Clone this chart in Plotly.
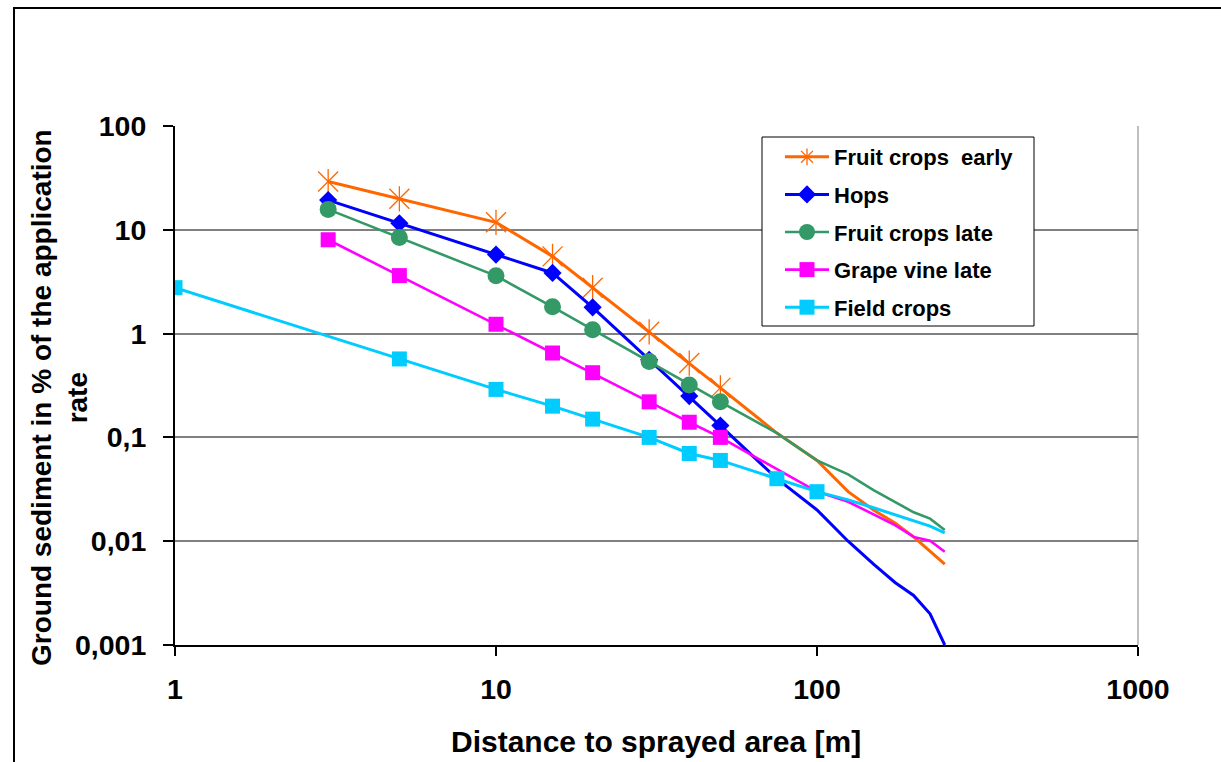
import plotly.graph_objects as go

# Distances from the sprayed area [m]
dist = [3, 5, 10, 15, 20, 30, 40, 50, 75, 100, 125, 150, 175, 200, 225, 250]
field_dist = [1, 5, 10, 15, 20, 30, 40, 50, 75, 100, 125, 150, 175, 200, 225, 250]

# Ground sediment in % of the application rate
fruit_early = [29.2, 19.89, 11.81, 5.55, 2.77, 1.04, 0.52, 0.30,
               0.11, 0.06, 0.03, 0.02, 0.015, 0.011, 0.008, 0.006]
hops = [19.33, 11.57, 5.77, 3.84, 1.79, 0.56, 0.25, 0.13,
        0.04, 0.02, 0.01, 0.006, 0.004, 0.003, 0.002, 0.001]
fruit_late = [15.73, 8.41, 3.60, 1.81, 1.09, 0.54, 0.32, 0.22,
              0.11, 0.06, 0.044, 0.031, 0.024, 0.019, 0.0165, 0.0128]
grape_late = [8.02, 3.62, 1.23, 0.65, 0.42, 0.22, 0.14, 0.10,
              0.05, 0.03, 0.024, 0.018, 0.0143, 0.011, 0.0101, 0.0079]
field = [2.77, 0.57, 0.29, 0.20, 0.15, 0.10, 0.07, 0.06,
         0.04, 0.03, 0.025, 0.021, 0.018, 0.0158, 0.014, 0.012]

# number of leading points that carry a marker
n_marked = {"Fruit crops\u00a0 early": 8, "Hops": 8, "Fruit crops late": 8,
            "Grape vine late": 8, "Field crops": 10}

x_ticks = [1, 10, 100, 1000]
x_ticktext = ["1", "10", "100", "1000"]
y_ticks = [0.001, 0.01, 0.1, 1, 10, 100]
y_ticktext = ["0,001", "0,01", "0,1", "1", "10", "100"]

FONT = "Liberation Sans, Arial, sans-serif"
ORANGE = "#FF6600"
BLUE = "#0000FF"
GREEN = "#339966"
MAGENTA = "#FF00FF"
CYAN = "#00CCFF"

series = [
    ("Fruit crops\u00a0 early", dist, fruit_early, ORANGE, 3, None, 0),
    ("Hops", dist, hops, BLUE, 3, "diamond", 14),
    ("Fruit crops late", dist, fruit_late, GREEN, 2.6, "circle", 17),
    ("Grape vine late", dist, grape_late, MAGENTA, 2.6, "square", 15),
    ("Field crops", field_dist, field, CYAN, 3, "square", 15),
]

fig = go.Figure()

for name, xs, ys, color, lw, symbol, msize in series:
    n = n_marked[name]
    # tail of the curve without markers
    fig.add_trace(go.Scatter(
        x=xs[n - 1:], y=ys[n - 1:], mode="lines",
        line=dict(color=color, width=lw),
        legendgroup=name, showlegend=False, hoverinfo="skip"))
    if symbol is None:
        # star markers: diagonal cross plus vertical bar
        fig.add_trace(go.Scatter(
            x=xs[:n], y=ys[:n], mode="lines+markers",
            line=dict(color=color, width=lw),
            marker=dict(symbol="x-thin-open", size=20, color=color,
                        line=dict(width=1.3, color=color)),
            legendgroup=name, showlegend=False))
        fig.add_trace(go.Scatter(
            x=xs[:n], y=ys[:n], mode="markers",
            marker=dict(symbol="line-ns-open", size=18, color=color,
                        line=dict(width=1.3, color=color)),
            legendgroup=name, showlegend=False, hoverinfo="skip"))
        fig.add_trace(go.Scatter(
            x=[None], y=[None], mode="lines+markers", name=name,
            line=dict(color=color, width=lw),
            marker=dict(symbol="asterisk-open", size=14, color=color,
                        line=dict(width=1.3, color=color)),
            legendgroup=name, showlegend=True))
    else:
        fig.add_trace(go.Scatter(
            x=xs[:n], y=ys[:n], mode="lines+markers", name=name,
            line=dict(color=color, width=lw),
            marker=dict(symbol=symbol, size=msize, color=color,
                        line=dict(width=0)),
            legendgroup=name, showlegend=True))

PL, PR, PT, PB = 175, 1138, 126, 645
W, H = 1221, 762
pw, ph = PR - PL, PB - PT


def px_x(p):
    return (p - PL) / pw


def px_y(p):
    return (PB - p) / ph


fig.update_layout(
    width=W, height=H,
    margin=dict(l=PL, r=W - PR, t=PT, b=H - PB, pad=0),
    paper_bgcolor="white", plot_bgcolor="white",
    font=dict(family=FONT, color="black", weight="bold"),
    showlegend=True,
    legend=dict(
        x=px_x(780), y=px_y(136), xanchor="left", yanchor="top",
        bgcolor="rgba(0,0,0,0)", borderwidth=0,
        font=dict(family=FONT, size=22, color="black", weight="bold"),
        tracegroupgap=6, itemwidth=44, traceorder="grouped",
    ),
    xaxis=dict(
        type="log", range=[0, 3],
        tickvals=x_ticks, ticktext=x_ticktext,
        tickfont=dict(family=FONT, size=28.5, weight="bold"),
        showgrid=False, zeroline=False,
        showline=True, linecolor="black", linewidth=2,
        ticks="outside", ticklen=9, tickwidth=2, tickcolor="black",
        ticklabelstandoff=9,
    ),
    yaxis=dict(
        type="log", range=[-3, 2],
        tickvals=y_ticks, ticktext=y_ticktext,
        tickfont=dict(family=FONT, size=28.5, weight="bold"),
        showgrid=True, gridcolor="#808080", gridwidth=1.5, zeroline=False,
        showline=True, linecolor="black", linewidth=2,
        ticks="outside", ticklen=10, tickwidth=2, tickcolor="black",
        ticklabelstandoff=11,
    ),
    annotations=[
        dict(text="Distance to sprayed area [m]", xref="paper", yref="paper",
             x=px_x(656), y=px_y(741), xanchor="center", yanchor="middle",
             showarrow=False, font=dict(family=FONT, size=30, weight="bold")),
        dict(text="Ground sediment in % of the application<br>rate",
             xref="paper", yref="paper", x=px_x(59), y=px_y(398),
             xanchor="center", yanchor="middle", textangle=-90,
             showarrow=False, font=dict(family=FONT, size=28, weight="bold")),
    ],
    shapes=[
        # outer chart frame
        dict(type="rect", xref="paper", yref="paper",
             x0=px_x(14), x1=px_x(1240), y0=px_y(790), y1=px_y(8),
             line=dict(color="black", width=2), fillcolor="rgba(0,0,0,0)",
             layer="below"),
        # right border of the plot area
        dict(type="line", xref="paper", yref="paper", x0=1, x1=1, y0=0, y1=1,
             line=dict(color="#808080", width=1)),
        # legend box
        dict(type="rect", xref="paper", yref="paper",
             x0=px_x(762), x1=px_x(1034), y0=px_y(326), y1=px_y(137),
             line=dict(color="black", width=1), fillcolor="white",
             layer="above"),
    ],
)

fig.write_html("out.html")
